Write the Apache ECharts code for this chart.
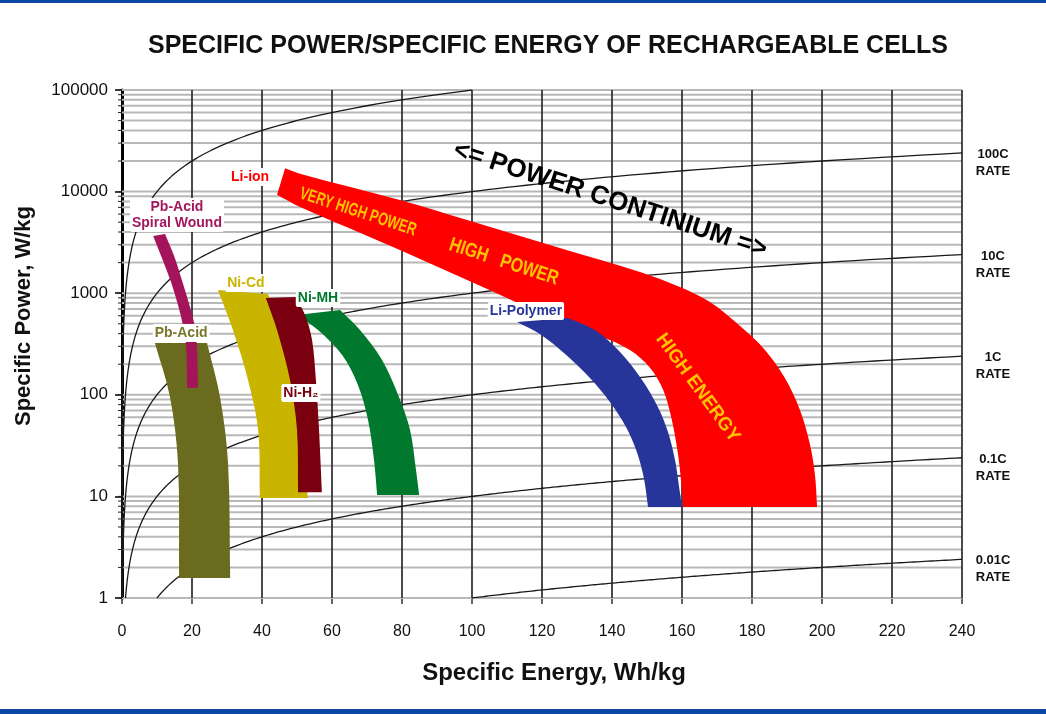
<!DOCTYPE html>
<html><head><meta charset="utf-8">
<script src="https://cdn.jsdelivr.net/npm/echarts@6/dist/echarts.min.js"></script>
<style>html,body{margin:0;padding:0;background:#fff}#c{width:1046px;height:714px}</style>
</head><body><div id="c"></div>
<script>
// ---------------- data ----------------
const xGridValues = [20, 40, 60, 80, 100, 120, 140, 160, 180, 200, 220, 240];
const decades = [1, 10, 100, 1000, 10000, 100000];
const minorMultipliers = [2, 3, 4, 5, 6, 7, 8, 9];
const cRates = [1000, 100, 10, 1, 0.1, 0.01];
const rateLabelRates = [100, 10, 1, 0.1, 0.01];
const rateLabelTexts = ['100C\nRATE', '10C\nRATE', '1C\nRATE', '0.1C\nRATE', '0.01C\nRATE'];

// [specific energy Wh/kg, specific power W/kg] along each edge, top to bottom
const pbAcidLeft   = [[9.4, 323], [13.7, 95], [16.0, 21.3], [16.3, 1.57]];
const pbAcidRight  = [[24.3, 323], [28.0, 95], [30.3, 21.3], [30.9, 1.57]];
const spiralLeft   = [[8.9, 3656], [11.4, 2220], [14.0, 1289], [16.0, 765], [17.4, 486], [18.3, 309], [18.6, 117]];
const spiralRight  = [[12.3, 3826], [14.9, 2323], [17.1, 1349], [19.1, 801], [20.6, 509], [21.4, 309], [21.7, 117]];
const niCdLeft     = [[27.4, 1075], [31.7, 434], [36.0, 140], [38.9, 45], [39.4, 9.64]];
const niCdRight    = [[41.7, 982], [45.7, 434], [48.9, 140], [50.9, 45], [52.3, 18.2], [53.1, 9.64]];
const niMhLeft     = [[50.0, 610], [56.0, 434], [62.9, 246], [67.4, 125], [70.3, 56.5], [72.0, 22.8], [72.9, 10.3]];
const niMhRight    = [[62.3, 684], [68.0, 434], [74.3, 220], [78.9, 99.5], [82.3, 45], [84.0, 18.2], [84.9, 10.3]];
const niH2Left     = [[41.1, 897], [44.3, 434], [48.0, 140], [50.0, 45], [50.3, 11.0]];
const niH2Right    = [[49.7, 918], [52.3, 610], [54.3, 346], [55.4, 140], [56.3, 45], [57.1, 11.0]];
const liIonLower   = [[44.3, 9300], [50.9, 7050], [79.4, 2661], [98.6, 1349], [122.3, 583], [136.6, 379], [145.1, 276], [150.9, 184], [154.6, 112], [157.1, 56.5], [158.9, 25.6], [159.7, 14.5], [160.3, 7.87]];
const liIonUpper   = [[46.6, 17000], [51.1, 14900], [79.4, 8260], [98.6, 5250], [125.1, 2790], [148.0, 1617], [159.4, 1151], [168.0, 819], [176.6, 475], [183.7, 276], [189.4, 146], [193.7, 70.8], [196.6, 32.1], [198.0, 16.2], [198.6, 7.87]];
const liPolyLeft   = [[112.9, 521], [119.4, 397], [126.6, 252], [133.7, 146], [139.4, 85], [144.0, 48.2], [147.1, 27.4], [149.1, 15.2], [150.3, 7.87]];
const liPolyRight  = [[127.4, 570], [135.1, 434], [142.3, 264], [148.6, 140], [153.1, 75.8], [156.0, 43], [158.0, 22.8], [159.1, 12.9], [160.0, 7.87]];

const annotationTexts = ['Pb-Acid\nSpiral Wound', 'Pb-Acid', 'Ni-Cd', 'Ni-MH', 'Ni-H\u2082', 'Li-ion', 'Li-Polymer',
  'VERY HIGH POWER', 'HIGH   POWER', 'HIGH ENERGY', '<= POWER CONTINIUM =>'];
const annotationPositions = [[15.7, 5890], [16.9, 406], [35.4, 1260], [56.0, 897], [51.1, 104], [36.6, 13920], [115.4, 668],
  [67.4, 6300], [109.1, 2028], [164.5, 117], [139.5, 8265]];

// ---------------- styles ----------------
const FONT = "'Liberation Sans', Arial, sans-serif";
const NARROW = "'Liberation Sans Narrow', 'Liberation Sans', sans-serif";
const deg = Math.PI / 180;
const tagStyle = (c) => ({ fill: c, font: 'bold 14px ' + FONT, backgroundColor: '#fff', padding: [1, 2], lineHeight: 16, borderRadius: 2 });
const annotationStyles = [
  { style: tagStyle('#a3175f') },
  { style: tagStyle('#77772a') },
  { style: tagStyle('#c9b400') },
  { style: tagStyle('#00782d') },
  { style: tagStyle('#7a0010') },
  { style: tagStyle('#ff0000') },
  { style: tagStyle('#27359a') },
  { style: { fill: '#ffc400', font: 'bold 18px ' + NARROW }, rotation: -18 * deg, scaleX: 0.71 },
  { style: { fill: '#ffc400', font: 'bold 20px ' + NARROW }, rotation: -18 * deg, scaleX: 0.8 },
  { style: { fill: '#ffc400', font: 'bold 19px ' + NARROW }, rotation: -54 * deg, scaleX: 0.97 },
  { style: { fill: '#000', font: 'bold 26px ' + FONT }, rotation: -18 * deg, scaleX: 1 }
];

// ---------------- helpers ----------------
// smooth path through pixel points; tangents scaled by local segment length (no overshoot)
function splineSeg(pts) {
  const n = pts.length;
  const tan = pts.map((p, i) => {
    const a = pts[Math.max(0, i - 1)], b = pts[Math.min(n - 1, i + 1)];
    const dx = b[0] - a[0], dy = b[1] - a[1];
    const len = Math.hypot(dx, dy) || 1;
    return [dx / len, dy / len];
  });
  let d = '';
  for (let i = 0; i < n - 1; i++) {
    const p1 = pts[i], p2 = pts[i + 1];
    const seg = Math.hypot(p2[0] - p1[0], p2[1] - p1[1]) / 3;
    const c1 = [p1[0] + tan[i][0] * seg, p1[1] + tan[i][1] * seg];
    const c2 = [p2[0] - tan[i + 1][0] * seg, p2[1] - tan[i + 1][1] * seg];
    d += ` C${c1[0]},${c1[1]} ${c2[0]},${c2[1]} ${p2[0]},${p2[1]}`;
  }
  return d;
}
function shapeSeries(name, left, right, color, z) {
  return {
    type: 'custom', name, z, silent: true, coordinateSystem: 'cartesian2d',
    data: [left[0]],
    renderItem: (params, api) => {
      const L = left.map(p => api.coord(p));
      const R = right.slice().reverse().map(p => api.coord(p));
      const d = `M${L[0][0]},${L[0][1]}` + splineSeg(L) + ` L${R[0][0]},${R[0][1]}` + splineSeg(R) + ' Z';
      return { type: 'path', shape: { pathData: d }, style: { fill: color } };
    }
  };
}

const hGridValues = [];
decades.forEach(d => {
  hGridValues.push(d);
  if (d < 100000) minorMultipliers.forEach(m => hGridValues.push(d * m));
});

// iso-rate lines: specific power = C-rate x specific energy
const rateSeries = cRates.map(k => {
  const e0 = Math.max(1 / k, 1e-4), e1 = Math.min(240, 100000 / k);
  const pts = [];
  const N = 400;
  for (let i = 0; i <= N; i++) {
    const e = e0 * Math.pow(e1 / e0, i / N);
    pts.push([e, k * e]);
  }
  return { type: 'line', name: k + 'C', data: pts, showSymbol: false, symbol: 'none', z: 3, silent: true,
    lineStyle: { color: '#1a1a1a', width: 1.3 } };
});

const chart = echarts.init(document.getElementById('c'));
chart.setOption({
  animation: false,
  backgroundColor: '#fff',
  grid: { left: 122, right: 84, top: 90, bottom: 116, containLabel: false, outerBoundsMode: 'none' },
  xAxis: {
    type: 'value', min: 0, max: 240, interval: 20,
    axisLine: { show: false },
    axisTick: { show: true, length: 6, lineStyle: { color: '#333', width: 1.5 } },
    axisLabel: { margin: 26, fontSize: 16, color: '#111', fontFamily: FONT },
    splitLine: { show: false }
  },
  yAxis: {
    type: 'log', logBase: 10, min: 1, max: 100000,
    axisLine: { show: true, onZero: false, lineStyle: { color: '#000', width: 3 } },
    axisTick: { show: true, length: 7, lineStyle: { color: '#000', width: 1.5 } },
    axisLabel: { margin: 14, fontSize: 17, color: '#111', fontFamily: FONT, formatter: v => String(Math.round(v)) },
    splitLine: { show: false }
  },
  graphic: [
    { type: 'rect', shape: { x: 0, y: 0, width: 1046, height: 3 }, style: { fill: '#0b48a8' }, z: 100 },
    { type: 'rect', shape: { x: 0, y: 709, width: 1046, height: 5 }, style: { fill: '#0b48a8' }, z: 100 },
    { type: 'text', x: 548, y: 46, z: 100,
      style: { text: 'SPECIFIC POWER/SPECIFIC ENERGY OF RECHARGEABLE CELLS', font: 'bold 25px ' + FONT, fill: '#111', align: 'center', verticalAlign: 'middle' } },
    { type: 'text', x: 554, y: 673, z: 100,
      style: { text: 'Specific Energy, Wh/kg', font: 'bold 24px ' + FONT, fill: '#111', align: 'center', verticalAlign: 'middle' } },
    { type: 'text', x: 24, y: 316, rotation: Math.PI / 2, z: 100,
      style: { text: 'Specific Power, W/kg', font: 'bold 22px ' + FONT, fill: '#111', align: 'center', verticalAlign: 'middle' } }
  ],
  series: [
    { // horizontal log grid lines + minor ticks
      type: 'custom', z: 1, silent: true, clip: false,
      data: hGridValues.map(v => [0, v]),
      renderItem: (params, api) => {
        const v = api.value(1);
        const a = api.coord([0, v]), b = api.coord([240, v]);
        return { type: 'group', children: [
          { type: 'line', shape: { x1: a[0], y1: a[1], x2: b[0], y2: b[1] }, style: { stroke: '#b8b8b8', lineWidth: 2 } },
          { type: 'line', shape: { x1: a[0] - 4, y1: a[1], x2: a[0], y2: a[1] }, style: { stroke: '#222', lineWidth: 1 } }
        ] };
      }
    },
    { // vertical grid lines
      type: 'custom', z: 2, silent: true,
      data: xGridValues.map(x => [x, 1]),
      renderItem: (params, api) => {
        const x = api.value(0);
        const a = api.coord([x, 1]), b = api.coord([x, 100000]);
        return { type: 'line', shape: { x1: a[0], y1: a[1], x2: b[0], y2: b[1] }, style: { stroke: '#2b2b2b', lineWidth: 1.7 } };
      }
    },
    ...rateSeries,
    shapeSeries('Pb-Acid', pbAcidLeft, pbAcidRight, '#6b6b1f', 4),
    shapeSeries('Pb-Acid Spiral Wound', spiralLeft, spiralRight, '#a3145a', 5),
    shapeSeries('Ni-Cd', niCdLeft, niCdRight, '#c9b400', 4),
    shapeSeries('Ni-MH', niMhLeft, niMhRight, '#00782d', 4),
    shapeSeries('Ni-H2', niH2Left, niH2Right, '#7a0010', 5),
    shapeSeries('Li-ion', liIonLower, liIonUpper, '#ff0000', 4),
    shapeSeries('Li-Polymer', liPolyLeft, liPolyRight, '#27359a', 5),
    { // annotations
      type: 'custom', z: 10, silent: true, clip: false,
      data: annotationPositions.map((p, i) => [p[0], p[1], i]),
      renderItem: (params, api) => {
        const i = api.value(2);
        const c = api.coord([api.value(0), api.value(1)]);
        const s = annotationStyles[i];
        return { type: 'text', x: c[0], y: c[1], rotation: s.rotation || 0, scaleX: s.scaleX || 1,
          style: Object.assign({ text: annotationTexts[i], align: 'center', verticalAlign: 'middle' }, s.style) };
      }
    },
    { // C-rate labels at the right edge
      type: 'custom', z: 10, silent: true, clip: false,
      data: rateLabelRates.map((k, i) => [240, k * 240, i]),
      renderItem: (params, api) => {
        const i = api.value(2);
        const c = api.coord([api.value(0), api.value(1)]);
        return { type: 'text', x: c[0] + 31, y: c[1] - 7,
          style: { text: rateLabelTexts[i], font: 'bold 13px ' + FONT, fill: '#111', align: 'center', verticalAlign: 'top', lineHeight: 17 } };
      }
    }
  ]
});
</script></body></html>
